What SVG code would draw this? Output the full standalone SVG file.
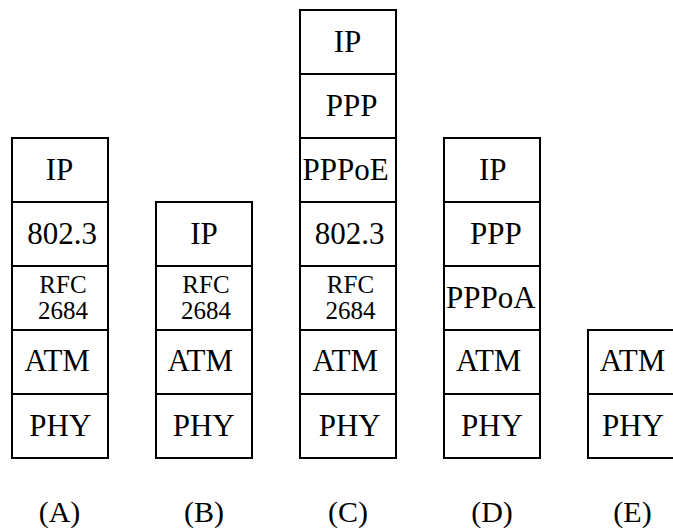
<svg xmlns="http://www.w3.org/2000/svg" width="673" height="531" viewBox="0 0 673 531">
<style>
rect{fill:#fff;stroke:#000;stroke-width:2}
text{font-family:"Liberation Serif","Times New Roman",serif;font-size:31px;text-anchor:middle;fill:#000}
text.s{font-size:25px}
text.l{font-size:30px}
</style>
<rect x="0" y="0" width="673" height="531" style="stroke:none"/>
<g id="stackA">
<rect x="12" y="138" width="96" height="64"/><text x="59.5" y="179.5">IP</text>
<rect x="12" y="202" width="96" height="64"/><text x="62" y="243.5">802.3</text>
<rect x="12" y="266" width="96" height="64"/><text class="s" x="63" y="293.3">RFC</text><text class="s" x="63" y="319.3">2684</text>
<rect x="12" y="330" width="96" height="64"/><text x="57.2" y="371">ATM</text>
<rect x="12" y="394" width="96" height="64"/><text x="60.3" y="436">PHY</text>
</g>
<g id="stackB">
<rect x="156" y="202" width="96" height="64"/><text x="204" y="243.5">IP</text>
<rect x="156" y="266" width="96" height="64"/><text class="s" x="206" y="293.3">RFC</text><text class="s" x="206" y="319.3">2684</text>
<rect x="156" y="330" width="96" height="64"/><text x="200.3" y="371">ATM</text>
<rect x="156" y="394" width="96" height="64"/><text x="203.7" y="436">PHY</text>
</g>
<g id="stackC">
<rect x="300" y="10" width="96" height="64"/><text x="347.5" y="51.5">IP</text>
<rect x="300" y="74" width="96" height="64"/><text x="351.7" y="115.5">PPP</text>
<rect x="300" y="138" width="96" height="64"/><text x="345.5" y="179.5">PPPoE</text>
<rect x="300" y="202" width="96" height="64"/><text x="349.7" y="243.5">802.3</text>
<rect x="300" y="266" width="96" height="64"/><text class="s" x="350.5" y="293.3">RFC</text><text class="s" x="350.5" y="319.3">2684</text>
<rect x="300" y="330" width="96" height="64"/><text x="345.3" y="371">ATM</text>
<rect x="300" y="394" width="96" height="64"/><text x="349.7" y="436">PHY</text>
</g>
<g id="stackD">
<rect x="444" y="138" width="96" height="64"/><text x="492.7" y="179.5">IP</text>
<rect x="444" y="202" width="96" height="64"/><text x="495.8" y="243.5">PPP</text>
<rect x="444" y="266" width="96" height="64"/><text x="490.8" y="307.5">PPPoA</text>
<rect x="444" y="330" width="96" height="64"/><text x="488.7" y="371">ATM</text>
<rect x="444" y="394" width="96" height="64"/><text x="492" y="436">PHY</text>
</g>
<g id="stackE">
<rect x="588" y="330" width="96" height="64"/><text x="632.5" y="371">ATM</text>
<rect x="588" y="394" width="96" height="64"/><text x="633" y="436">PHY</text>
</g>
<g id="connectors"/>
<g id="labels">
<text class="l" x="59.5" y="522">(A)</text>
<text class="l" x="204" y="522">(B)</text>
<text class="l" x="348" y="522">(C)</text>
<text class="l" x="492" y="522">(D)</text>
<text class="l" x="632.5" y="522">(E)</text>
</g>
</svg>
